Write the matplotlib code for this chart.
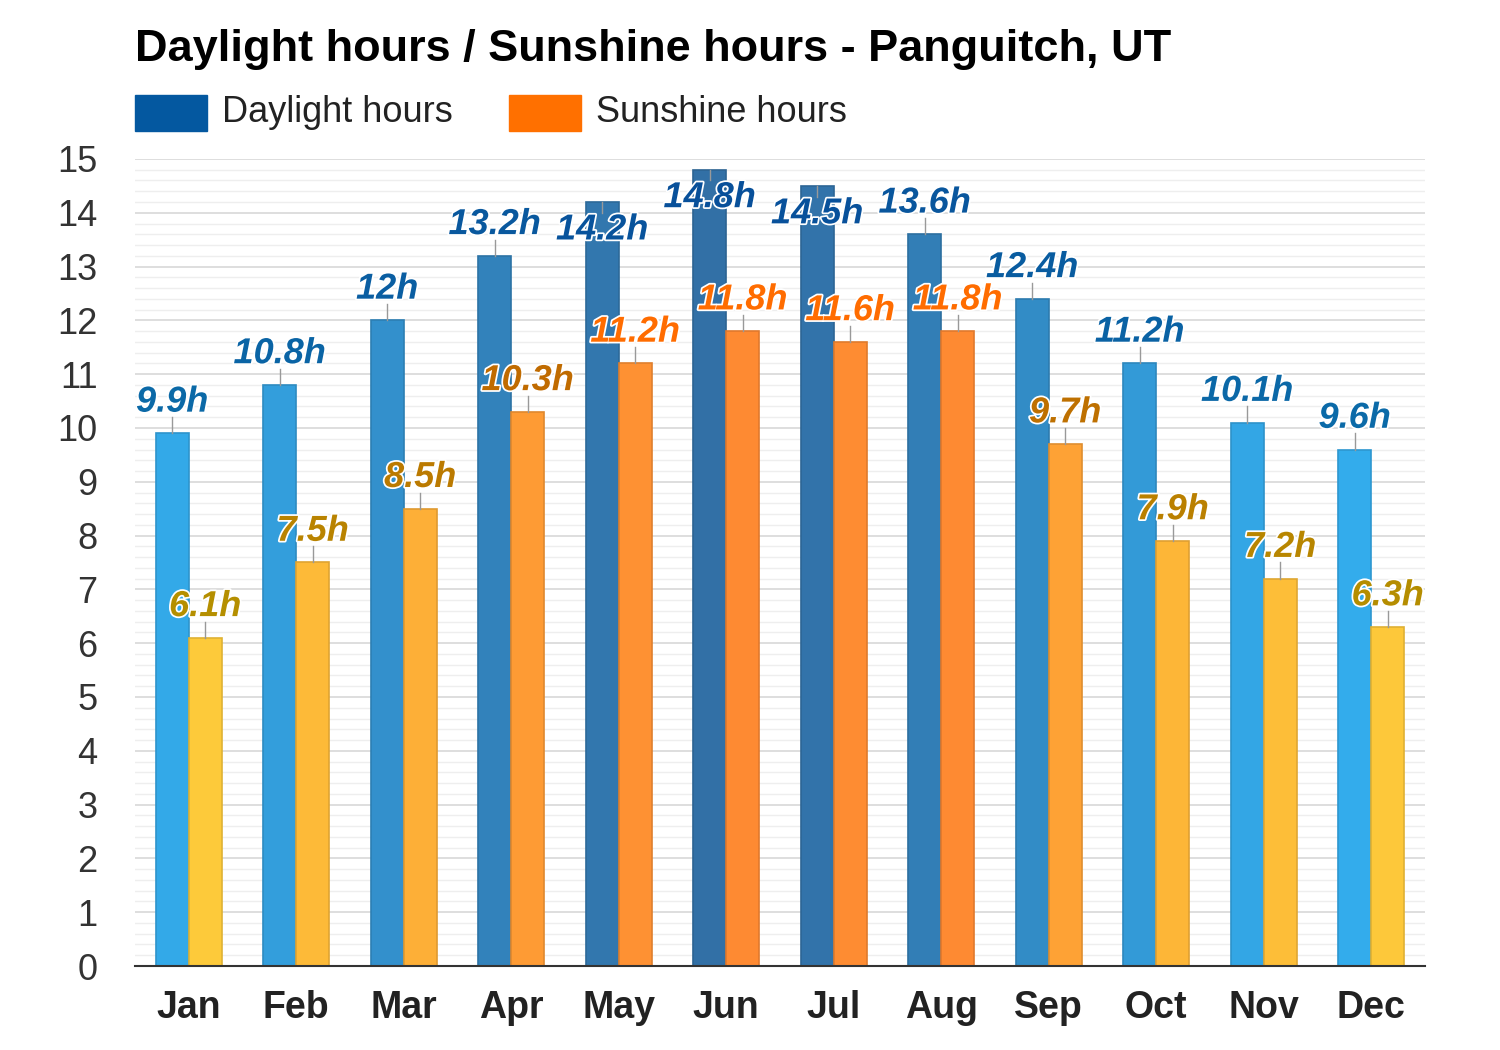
"""
Daylight hours / Sunshine hours - Panguitch, UT
Monthly bar chart, two series side by side.
"""
import matplotlib
matplotlib.use("Agg")
import matplotlib.pyplot as plt
import matplotlib.patheffects as pe
from matplotlib.colors import LinearSegmentedColormap, to_rgb
from matplotlib.patches import Rectangle
import numpy as np

plt.rcParams["font.family"] = ["Liberation Sans", "DejaVu Sans"]

months = ["Jan", "Feb", "Mar", "Apr", "May", "Jun", "Jul", "Aug", "Sep", "Oct", "Nov", "Dec"]
daylight = [9.9, 10.8, 12.0, 13.2, 14.2, 14.8, 14.5, 13.6, 12.4, 11.2, 10.1, 9.6]
sunshine = [6.1, 7.5, 8.5, 10.3, 11.2, 11.8, 11.6, 11.8, 9.7, 7.9, 7.2, 6.3]
daylight_labels = ["9.9h", "10.8h", "12h", "13.2h", "14.2h", "14.8h", "14.5h", "13.6h", "12.4h", "11.2h", "10.1h", "9.6h"]
sunshine_labels = ["6.1h", "7.5h", "8.5h", "10.3h", "11.2h", "11.8h", "11.6h", "11.8h", "9.7h", "7.9h", "7.2h", "6.3h"]

# colour ramps (bar fill / label text), low value -> high value
day_bar_cmap = LinearSegmentedColormap.from_list("day_bar", ["#33acec", "#3270a6"])
day_txt_cmap = LinearSegmentedColormap.from_list("day_txt", ["#0b6aa8", "#08509a"])
sun_bar_cmap = LinearSegmentedColormap.from_list("sun_bar", ["#fdca3a", "#fe8a32"])
sun_txt_cmap = LinearSegmentedColormap.from_list(
    "sun_txt", [(0, "#b58f00"), (0.75, "#c06a00"), (0.85, "#ff6c00"), (1, "#ff6c00")])


def norm(vals):
    v = np.array(vals)
    return (v - v.min()) / (v.max() - v.min())


def darker(c, f=0.88):
    r, g, b = to_rgb(c)
    return (r * f, g * f, b * f)


fig = plt.figure(figsize=(15, 10.5), dpi=100)
ax = fig.add_axes([0.09, 0.08, 0.86, 0.7686])

x = np.arange(len(months))
w = 0.307
YMAX = 15

series = [
    (daylight, daylight_labels, -w / 2, day_bar_cmap, day_txt_cmap),
    (sunshine, sunshine_labels, w / 2, sun_bar_cmap, sun_txt_cmap),
]
for vals, labels, off, bcmap, tcmap in series:
    n = norm(vals)
    fcols = [bcmap(t) for t in n]
    ax.bar(x + off, vals, w, color=fcols, edgecolor=[darker(c) for c in fcols],
           linewidth=1.2, zorder=3)
    for xi, v, lab, t in zip(x + off, vals, labels, n):
        if v + 0.9 > YMAX:
            # no room above -> put label just under the bar top
            ax.plot([xi, xi], [v, v - 0.2], color="#999999", lw=1, zorder=4)
            ty = v - 0.52
        else:
            ax.plot([xi, xi], [v, v + 0.3], color="#999999", lw=1, zorder=4)
            ty = v + 0.58
        ax.text(xi, ty, lab, ha="center", va="center", fontsize=26, fontweight="bold",
                fontstyle="italic", color=tcmap(t), zorder=5,
                path_effects=[pe.withStroke(linewidth=2.5, foreground="white")])

ax.set_xlim(-0.5, len(months) - 0.5)
ax.set_ylim(0, YMAX)
ax.set_yticks(range(0, YMAX + 1))
ax.set_yticks(np.arange(0, YMAX + 0.01, 0.2), minor=True)
ax.grid(axis="y", which="major", color="#d8d8d8", lw=1.2, zorder=0)
ax.grid(axis="y", which="minor", color="#eeeeee", lw=1, zorder=0)
ax.set_xticks(x)
ax.set_xticklabels(months, fontsize=27, fontweight="bold", color="#222222")
ax.tick_params(axis="x", length=0, pad=17)
ax.tick_params(axis="y", which="both", length=0, pad=27, labelsize=26, labelcolor="#333333")
for s in ["top", "right", "left"]:
    ax.spines[s].set_visible(False)
ax.spines["bottom"].set_color("#333333")
ax.spines["bottom"].set_linewidth(1.5)
ax.spines["bottom"].set_zorder(6)

fig.text(0.09, 1 - 49 / 1050, "Daylight hours / Sunshine hours - Panguitch, UT",
         fontsize=32.5, fontweight="bold", va="center", ha="left", color="#000000")

# legend
for px, col, name in [(135, "#0458a0", "Daylight hours"), (509, "#ff7000", "Sunshine hours")]:
    fig.patches.append(Rectangle((px / 1500, 1 - 131 / 1050), 72 / 1500, 36 / 1050,
                                 transform=fig.transFigure, color=col))
    fig.text((px + 87) / 1500, 1 - 113 / 1050, name, fontsize=26, va="center",
             ha="left", color="#222222")

fig.savefig("out.png", dpi=100, facecolor="white")
